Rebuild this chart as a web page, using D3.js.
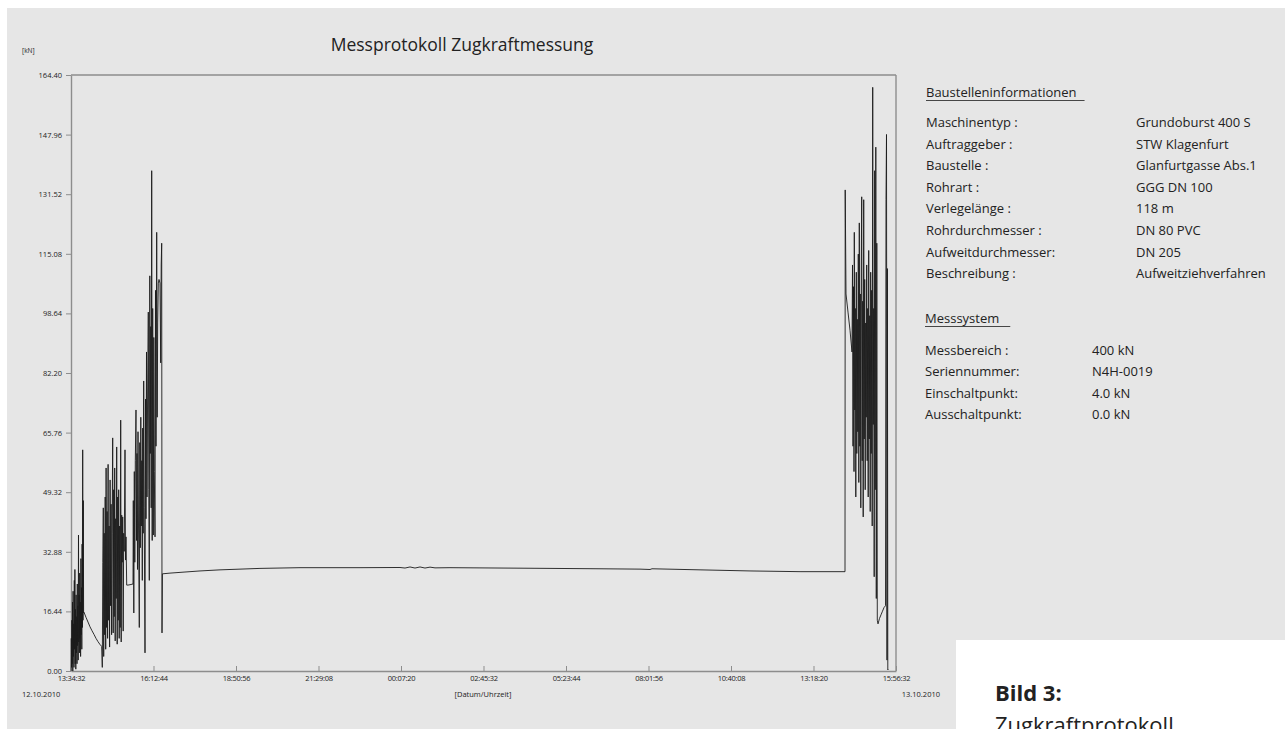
<!DOCTYPE html>
<html>
<head>
<meta charset="utf-8">
<script src="https://cdn.jsdelivr.net/npm/d3@7"></script>
<style>
  body { margin: 0; background: #fff; }
  svg { display: block; }
  text { font-family: "Open Sans", sans-serif; fill: #222; }
</style>
</head>
<body>
<div class="chart-container"></div>
<script>
const totalWidth = 1285;
const totalHeight = 729;

// time range of the recording
const startTime = "2010-10-12 13:34:32";
const endTime = "2010-10-13 15:56:32";

const yTicks = [0, 16.44, 32.88, 49.32, 65.76, 82.20, 98.64, 115.08, 131.52, 147.96, 164.40];
const xTicks = [
    "2010-10-12 13:34:32", "2010-10-12 16:12:44", "2010-10-12 18:50:56", "2010-10-12 21:29:08",
    "2010-10-13 00:07:20", "2010-10-13 02:45:32", "2010-10-13 05:23:44", "2010-10-13 08:01:56",
    "2010-10-13 10:40:08", "2010-10-13 13:18:20", "2010-10-13 15:56:32"
];

// [minutes after start, kN]
const startBurst = [
    [0,0],[0.58,9],[1.15,1],[1.73,14],[2.30,2],[2.88,19],[3.45,0],[4.03,22],[4.60,4],[5.18,13],
    [5.75,1],[6.33,25],[6.90,6],[7.48,28],[8.05,2],[8.63,17],[9.20,0.5],[9.78,21],[10.36,5],[10.93,15],
    [11.51,2],[12.08,24],[12.66,7],[13.23,18],[13.81,3],[14.38,37.5],[14.96,8],[15.53,21],[16.11,5],[16.68,27],
    [17.26,9],[17.83,19],[18.41,4],[18.98,31],[19.56,10],[20.13,23],[20.71,6],[21.29,35],[21.86,12],[22.44,61],
    [23.01,14],[23.59,47],[24.16,16],[24.93,16.2],[28.76,14.8],[32.60,13.5],[36.43,12.2],[40.27,11.1],[44.10,10.1],[47.94,9.0],
    [51.77,8.1],[55.61,7.3],[58.87,6.8],[60.02,1],[60.98,30],[61.94,45],[62.71,4],[63.66,38],[64.62,10],[65.58,48],
    [66.54,6],[67.31,56],[68.27,12],[69.23,44],[70.19,9],[71.14,57],[72.10,14],[73.06,40],[74.02,6.6],[74.98,52.7],
    [75.94,18],[76.89,46],[77.85,10],[78.81,38],[79.96,64.3],[80.92,10.5],[81.88,50],[82.84,15],[83.80,56],[84.76,8.3],
    [85.72,42],[86.67,20],[87.63,61.8],[88.59,7.4],[89.55,48],[90.51,14],[91.47,50],[92.42,9],[93.38,40],[94.34,12],
    [95.30,69.2],[96.26,8],[97.22,43],[98.18,30],[99.14,42.5],[100.09,11],[101.05,38],[102.01,33],[103.55,61],[104.51,30.6],
    [105.47,37],[106.81,23.7],[109.30,23.7],[113.14,23.8],[118.89,24],[119.47,47],[120.42,16],[121.38,55],[122.34,30],[123.30,58],
    [124.64,72],[125.60,36],[126.56,60],[127.52,28],[128.48,66],[129.44,40],[130.97,12],[131.93,63],[132.89,34],[133.85,70],
    [134.81,40],[135.76,58],[136.72,25],[137.49,67],[138.45,38],[139.41,80],[140.37,45],[141.90,5],[142.86,75],[143.82,42],
    [144.78,88],[145.74,48],[146.70,72],[148.23,99],[149.19,50],[150.15,25],[151.11,109],[152.06,60],[153.02,95],[153.79,45],
    [154.75,138],[155.71,36],[156.67,100],[157.82,37.5],[158.78,92],[159.74,55],[161.08,37],[162.04,105],[163.00,62],[164.34,121],
    [165.30,70],[166.26,96],[167.41,107],[168.75,108],[170.66,107],[172.01,85],[172.97,112],[173.93,118],[174.50,10.5]
];

const steadyPull = [
    [175.27,26.8],[189.83,27.0],[218.60,27.3],[247.37,27.6],[285.72,27.9],[324.07,28.1],[362.42,28.3],[400.77,28.4],
    [439.13,28.5],[496.66,28.5],[554.18,28.5],[630.88,28.55],[640.47,28.4],[650.06,28.7],[659.65,28.4],[669.24,28.7],
    [678.82,28.4],[688.41,28.65],[698.00,28.45],[726.76,28.5],[822.65,28.4],[918.52,28.3],[1014.40,28.2],[1091.10,28.1],
    [1110.28,28.0],[1114.11,28.2],[1206.20,27.9],[1302.08,27.6],[1397.96,27.4],[1484.21,27.4]
];

const endBurst = [
    [1484.60,132.7],[1486.13,104],[1489.97,99],[1493.80,94],[1497.64,88],[1498.60,112],[1499.56,62],[1500.51,106],[1501.47,55],[1502.05,121],
    [1503.01,72],[1503.97,100],[1504.93,48],[1505.88,110],[1506.84,60],[1507.80,97],[1508.76,66],[1509.72,115],[1510.68,52],[1511.64,123.6],
    [1512.60,62],[1513.55,104],[1514.51,45],[1515.47,112],[1516.24,130.8],[1517.20,58],[1518.16,102],[1519.12,42.5],[1520.07,130],[1521.03,64],
    [1521.99,108],[1522.95,50],[1523.91,96],[1524.87,70],[1525.83,112],[1526.78,58],[1527.74,100],[1528.70,48],[1529.66,116],[1530.62,64],
    [1531.58,98],[1532.54,44],[1533.49,110],[1534.45,60],[1535.41,105],[1536.37,40],[1537.33,161],[1538.29,68],[1539.25,100],[1540.20,26],
    [1541.16,138],[1542.12,50],[1543.27,144.5],[1544.23,20],[1545.19,118],[1546.15,14],[1547.49,13],[1550.37,14.5],[1553.24,15.5],[1556.12,16.5],
    [1559.00,17.5],[1561.87,18],[1562.83,130],[1563.79,148],[1564.75,3],[1565.52,111],[1566.28,0.3],[1567.05,0.5]
];

const siteLabels = ["Maschinentyp :", "Auftraggeber :", "Baustelle :", "Rohrart :", "Verlegelänge :", "Rohrdurchmesser :", "Aufweitdurchmesser:", "Beschreibung :"];
const siteValues = ["Grundoburst 400 S", "STW Klagenfurt", "Glanfurtgasse Abs.1", "GGG DN 100", "118 m", "DN 80 PVC", "DN 205", "Aufweitziehverfahren"];
const systemLabels = ["Messbereich :", "Seriennummer:", "Einschaltpunkt:", "Ausschaltpunkt:"];
const systemValues = ["400 kN", "N4H-0019", "4.0 kN", "0.0 kN"];

const parseTime = d3.timeParse("%Y-%m-%d %H:%M:%S");
const t0 = parseTime(startTime);

const svg = d3.select("body")
    .select(".chart-container")
    .append("svg")
    .attr("width", totalWidth)
    .attr("height", totalHeight);

// page background
svg.append("rect").attr("x", 7).attr("y", 8)
    .attr("width", totalWidth - 7).attr("height", totalHeight - 8)
    .attr("fill", "#e6e6e6");
svg.append("rect").attr("x", 956).attr("y", 640)
    .attr("width", totalWidth - 956).attr("height", totalHeight - 640)
    .attr("fill", "#fff");

const scaleX = d3.scaleTime()
    .domain([t0, parseTime(endTime)])
    .range([71, 896]);
const scaleY = d3.scaleLinear()
    .domain([0, 164.40])
    .range([671, 75]);

const axisColor = "#8d8d8d";

// frame top + right
svg.append("line").attr("x1", 71).attr("x2", 896).attr("y1", scaleY(164.40)).attr("y2", scaleY(164.40))
    .attr("stroke", axisColor).attr("stroke-width", 1.4);
svg.append("line").attr("x1", 896).attr("x2", 896).attr("y1", scaleY(164.40)).attr("y2", scaleY(0))
    .attr("stroke", axisColor).attr("stroke-width", 1.4);

const yAxis = svg.append("g")
    .attr("class", "vertical-axis")
    .attr("transform", "translate(71,0)")
    .call(d3.axisLeft(scaleY).tickValues(yTicks).tickFormat(d3.format(".2f"))
        .tickSize(5).tickSizeOuter(0).tickPadding(4));

const xAxis = svg.append("g")
    .attr("class", "horizontal-axis")
    .attr("transform", "translate(0,671)")
    .call(d3.axisBottom(scaleX).tickValues(xTicks.map(parseTime))
        .tickFormat(d3.timeFormat("%H:%M:%S"))
        .tickSizeInner(-5).tickSizeOuter(0).tickPadding(5));

[yAxis, xAxis].forEach(a => {
    a.select(".domain").attr("stroke", axisColor).attr("stroke-width", 1.4);
    a.selectAll(".tick line").attr("stroke", axisColor);
    a.selectAll(".tick text").attr("fill", "#333").style("font-family", "'Open Sans', sans-serif");
});
yAxis.selectAll(".tick text").style("font-size", "7.5px");
xAxis.selectAll(".tick text").style("font-size", "7.5px").style("letter-spacing", "-0.3px");

// force curve
const series = startBurst.concat(steadyPull, endBurst);
const line = d3.line()
    .x(d => scaleX(new Date(t0.getTime() + d[0] * 60000)))
    .y(d => scaleY(d[1]));
svg.append("path")
    .datum(series)
    .attr("fill", "none")
    .attr("stroke", "#1b1b1b")
    .attr("stroke-width", 0.9)
    .attr("d", line);

// axis captions
svg.append("text").attr("x", 22).attr("y", 53).style("font-size", "6.5px").text("[kN]");
svg.append("text").attr("x", 22).attr("y", 697).style("font-size", "7.5px").text("12.10.2010");
svg.append("text").attr("x", 940).attr("y", 697).attr("text-anchor", "end").style("font-size", "7.5px").text("13.10.2010");
svg.append("text").attr("x", 483).attr("y", 697).attr("text-anchor", "middle").style("font-size", "7.5px").text("[Datum/Uhrzeit]");

// title
svg.append("text").attr("x", 462).attr("y", 51).attr("text-anchor", "middle")
    .style("font-size", "17.5px").text("Messprotokoll Zugkraftmessung");

// info panel
function heading(x, y, label, extra) {
    const t = svg.append("text").attr("x", x).attr("y", y).style("font-size", "13px").text(label);
    const w = t.node().getComputedTextLength();
    svg.append("line").attr("x1", x).attr("x2", x + w + extra)
        .attr("y1", y + 3.5).attr("y2", y + 3.5)
        .attr("stroke", "#333").attr("stroke-width", 0.9);
}
heading(926, 97, "Baustelleninformationen", 8);
heading(925, 323, "Messsystem", 11);

svg.append("g").selectAll("text")
    .data(siteLabels).enter().append("text")
    .attr("x", 926).attr("y", (d, i) => 127 + i * 21.6)
    .style("font-size", "13px").text(d => d);
svg.append("g").selectAll("text")
    .data(siteValues).enter().append("text")
    .attr("x", 1136).attr("y", (d, i) => 127 + i * 21.6)
    .style("font-size", "13px").text(d => d);

svg.append("g").selectAll("text")
    .data(systemLabels).enter().append("text")
    .attr("x", 925).attr("y", (d, i) => 355 + i * 21.3)
    .style("font-size", "13px").text(d => d);
svg.append("g").selectAll("text")
    .data(systemValues).enter().append("text")
    .attr("x", 1092).attr("y", (d, i) => 355 + i * 21.3)
    .style("font-size", "13px").text(d => d);

// figure caption (cut at the bottom edge, as in the source picture)
svg.append("text").attr("x", 995).attr("y", 701)
    .style("font-size", "22px").style("font-weight", "bold").attr("fill", "#1a1a1a").text("Bild 3:");
svg.append("text").attr("x", 995).attr("y", 733)
    .style("font-size", "22px").attr("fill", "#1a1a1a").text("Zugkraftprotokoll");
</script>
</body>
</html>
